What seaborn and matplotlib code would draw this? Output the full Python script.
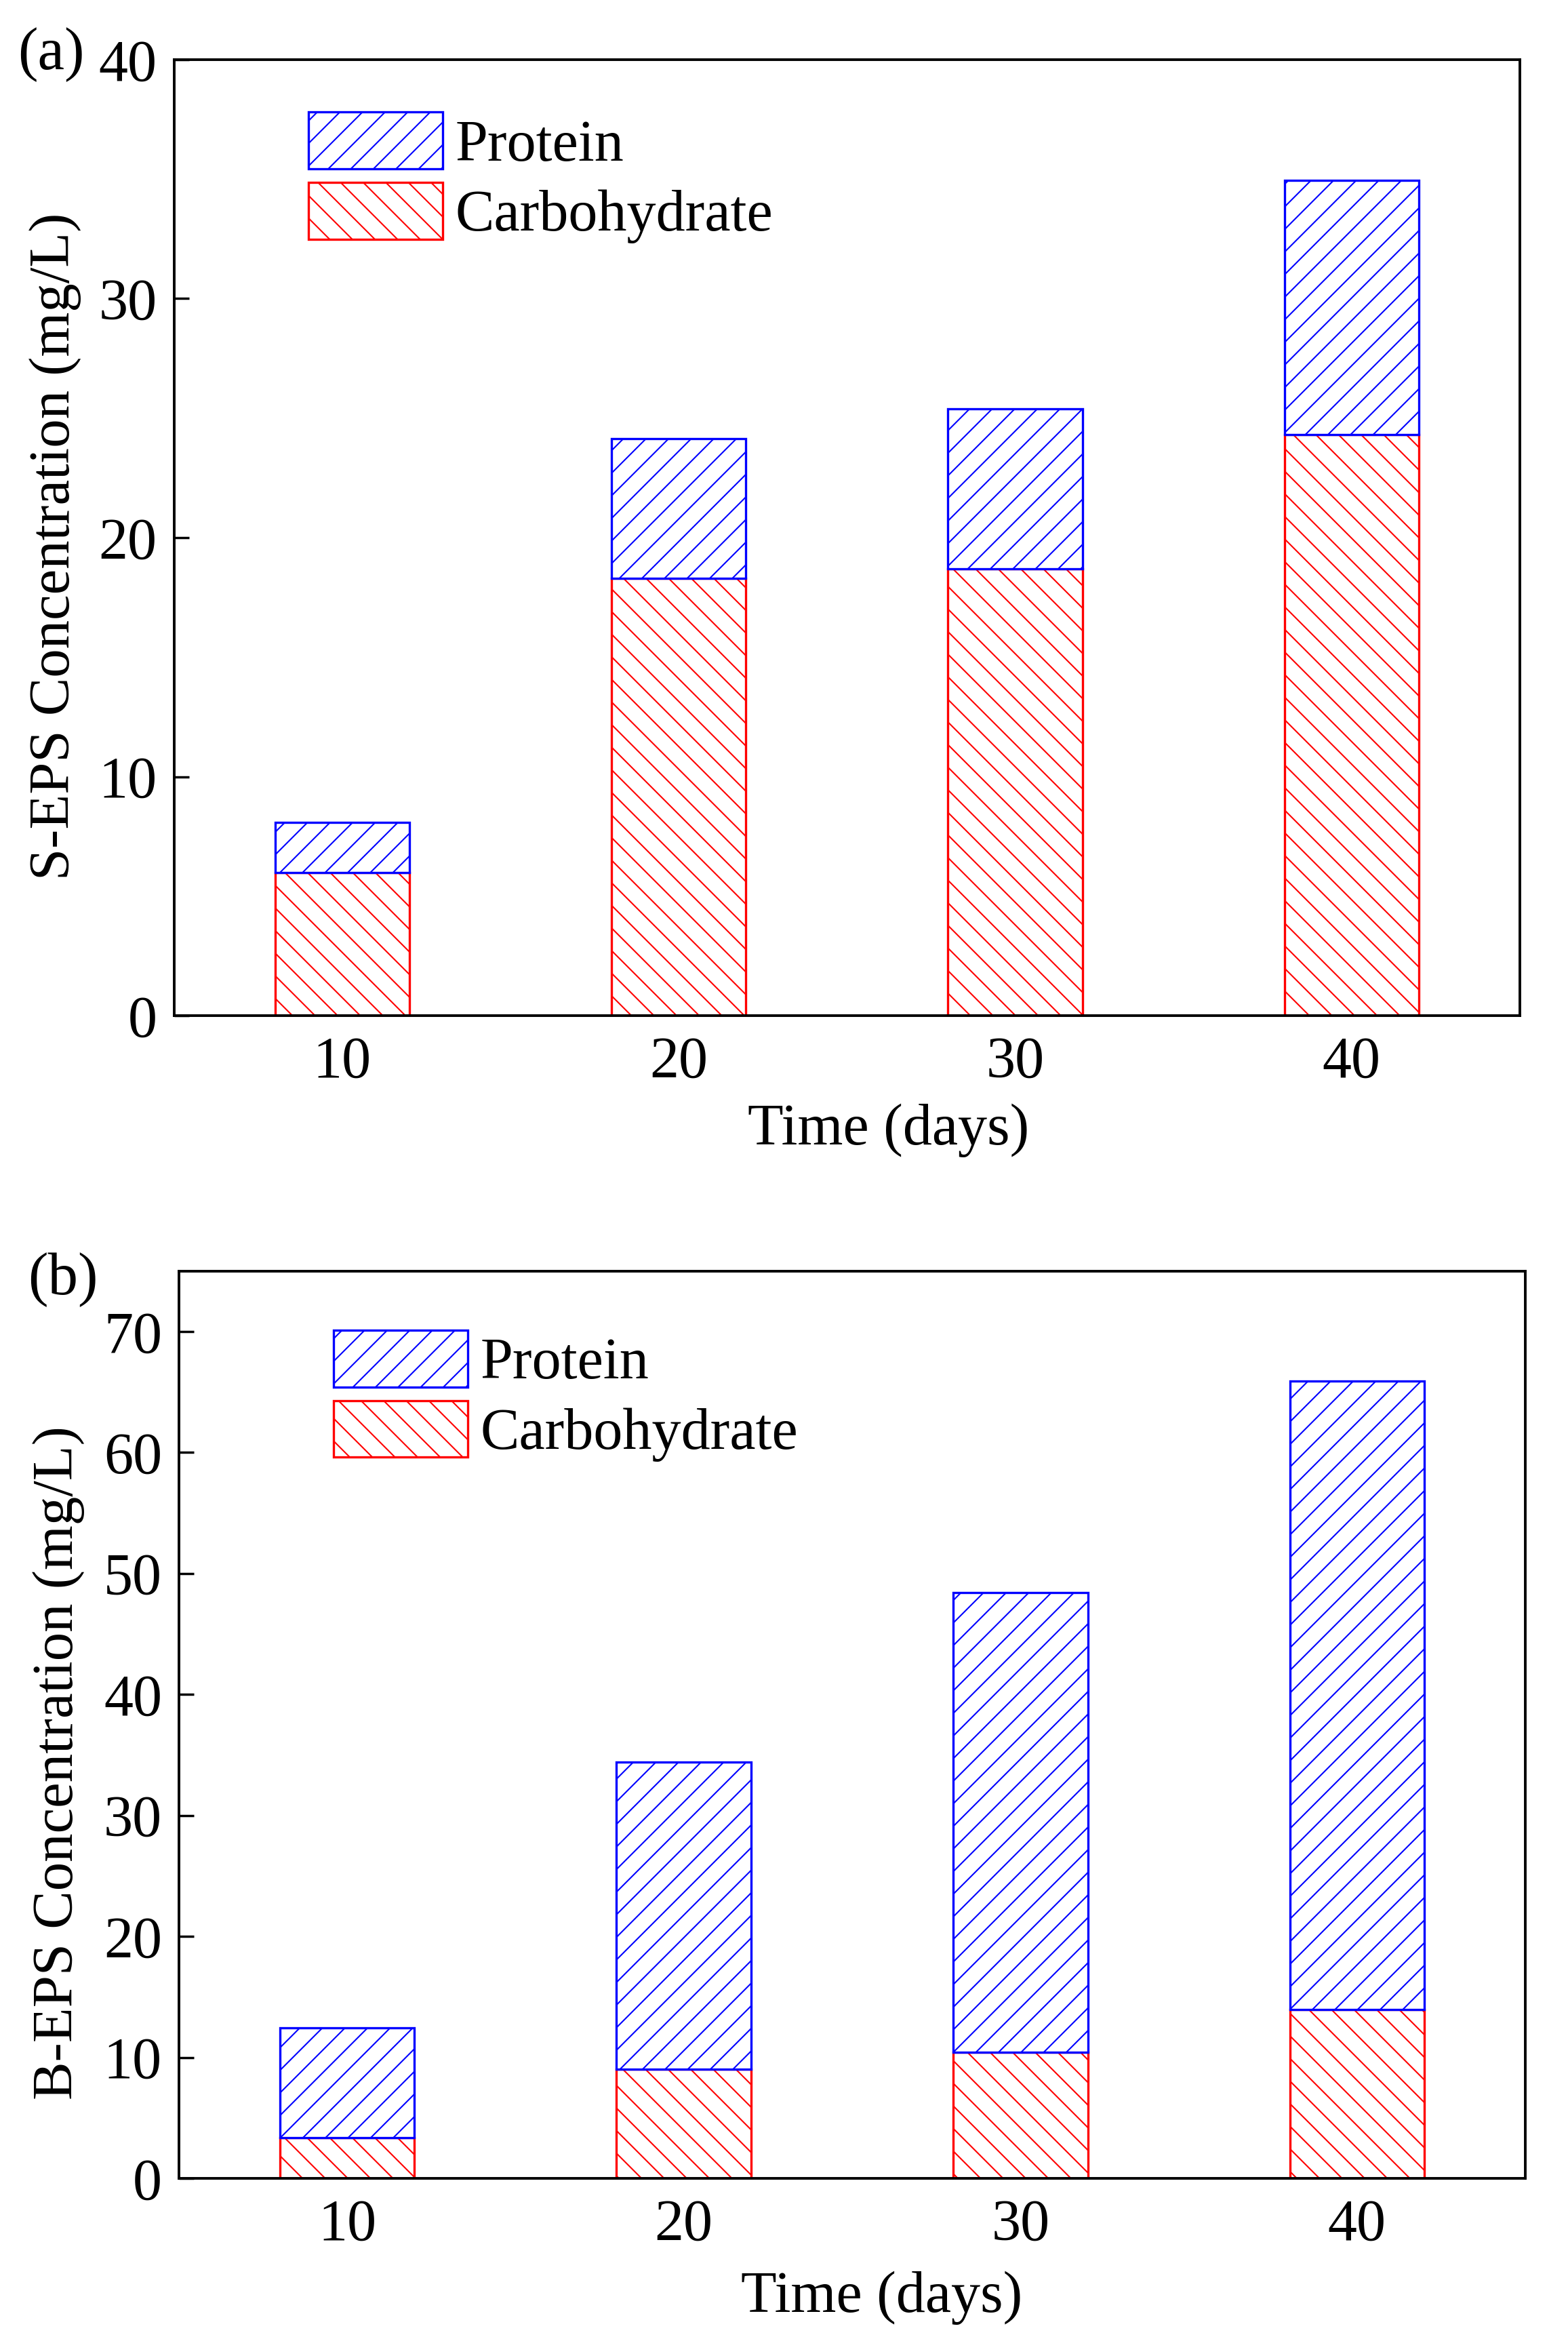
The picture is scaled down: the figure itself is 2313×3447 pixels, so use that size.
import numpy as np
import pandas as pd
import matplotlib.pyplot as plt
import seaborn as sns


### Data ###
days = [10, 20, 30, 40]

# (a) soluble EPS, mg/L
s_carbohydrate = [6.0, 18.3, 18.7, 24.3]
s_protein = [2.1, 5.85, 6.7, 10.65]

# (b) bound EPS, mg/L
b_carbohydrate = [3.35, 9.0, 10.4, 13.95]
b_protein = [9.1, 25.4, 38.0, 51.95]

s_yticks = [0, 10, 20, 30, 40]
b_yticks = [0, 10, 20, 30, 40, 50, 60, 70]


sns.set_style("ticks")
plt.rcParams["font.family"] = ["Liberation Serif", "DejaVu Serif"]
plt.rcParams["hatch.linewidth"] = 1.5
plt.rcParams["text.color"] = "black"
plt.rcParams["axes.labelcolor"] = "black"


def draw_panel(ax, carb, prot, ylabel, ylim, yticks, legend_anchor, ylabel_pos, xlabel_pos):
    """Stacked hatched bars: carbohydrate at the bottom, protein on top."""
    df = pd.DataFrame({"day": days, "Carbohydrate": carb, "Protein": prot})

    sns.barplot(
        data=df, x="day", y="Carbohydrate", native_scale=True, width=0.4,
        errorbar=None, ax=ax, color="red", facecolor="white", edgecolor="red",
        hatch="\\", linewidth=2.4, label="Carbohydrate",
    )
    n_carb = len(ax.patches)
    sns.barplot(
        data=df, x="day", y="Protein", native_scale=True, width=0.4,
        errorbar=None, ax=ax, color="blue", facecolor="white", edgecolor="blue",
        hatch="/", linewidth=2.4, bottom=df["Carbohydrate"].values,
        label="Protein",
    )
    carb_handle = ax.patches[0]
    prot_handle = ax.patches[n_carb]

    ax.set_xlim(5, 45)
    ax.set_ylim(*ylim)
    ax.set_xticks(days)
    ax.set_xticklabels([str(d) for d in days])
    ax.set_yticks(yticks)
    ax.set_yticklabels([str(t) for t in yticks])

    for side in ["top", "bottom", "left", "right"]:
        ax.spines[side].set_visible(True)
        ax.spines[side].set_linewidth(2.8)
        ax.spines[side].set_color("black")
    ax.tick_params(direction="in", length=16, width=2.5, top=False, right=False,
                   labelsize=62, colors="black")
    ax.tick_params(axis="x", pad=22)
    ax.tick_params(axis="y", pad=18)

    ax.set_xlabel("Time (days)", fontsize=62, color="black")
    ax.set_ylabel(ylabel, fontsize=61, color="black")
    ax.xaxis.set_label_coords(*xlabel_pos)
    ax.yaxis.set_label_coords(*ylabel_pos)

    ax.legend(
        handles=[prot_handle, carb_handle], labels=["Protein", "Carbohydrate"],
        loc="upper left", bbox_to_anchor=legend_anchor, frameon=False,
        fontsize=62, borderpad=0, borderaxespad=0, handlelength=2.3,
        handleheight=1.12, labelspacing=0.16, handletextpad=0.22,
    )


fig = plt.figure(figsize=(23.13, 34.47), dpi=100)
ax_a = fig.add_axes([0.111, 0.5654, 0.8583, 0.4091])
ax_b = fig.add_axes([0.1141, 0.0679, 0.8587, 0.3882])

draw_panel(ax_a, s_carbohydrate, s_protein, "S-EPS Concentration (mg/L)",
           (0, 40), s_yticks, (0.0998, 0.945), (-0.069, 0.491), (0.531, -0.092))
draw_panel(ax_b, b_carbohydrate, b_protein, "B-EPS Concentration (mg/L)",
           (0, 75), b_yticks, (0.1148, 0.935), (-0.070, 0.458), (0.522, -0.102))

fig.text(0.0328, 0.9765, "(a)", fontsize=64, ha="center", va="center")
fig.text(0.0403, 0.4523, "(b)", fontsize=64, ha="center", va="center")

fig.savefig("out.png", dpi=100)
